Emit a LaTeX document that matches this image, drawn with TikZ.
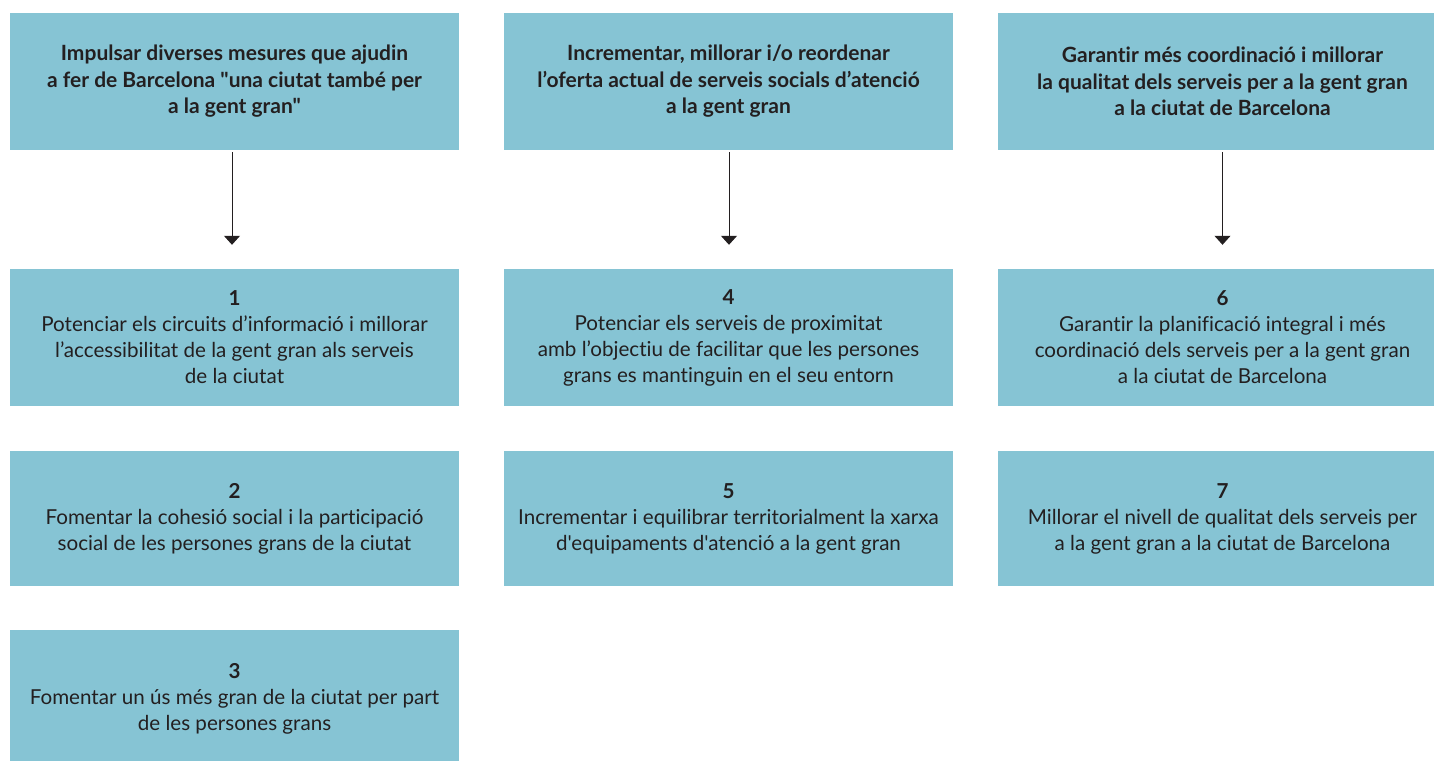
\documentclass[tikz,border=0pt]{standalone}
\usepackage{fontspec}
\setmainfont{Lato}[Ligatures={TeXOff,NoCommon}]
\usepackage{tikz}
\usetikzlibrary{arrows,arrows.meta,positioning}
\definecolor{caixa}{RGB}{134,196,212}
\definecolor{tinta}{RGB}{35,31,32}
\tikzstyle{bx} = [rectangle, fill=caixa, draw=none, align=center, inner sep=0pt, minimum width=449pt, text=tinta, font=\fontsize{20.6}{26}\selectfont]
\tikzstyle{hd} = [bx, minimum height=137pt, font=\fontsize{21}{26.5}\selectfont\bfseries]
\tikzstyle{ob} = [bx, minimum height=137pt]
\tikzstyle{ar} = [tinta, line width=1pt, -{Triangle[width=16pt,length=9pt]}]

\begin{document}
\begin{tikzpicture}[x=1pt,y=1pt]
		\useasboundingbox (0,0) rectangle (1434,760);
		\clip (0,0) rectangle (1434,760);

		% objectius generals
		\node[hd] (h1) at (234.5,678.5) {Impulsar diverses mesures que ajudin\\a fer de Barcelona "una ciutat també per\\a la gent gran"};
		\node[hd] (h2) at (728.5,678.5) {Incrementar, millorar i/o reordenar\\l’oferta actual de serveis socials d’atenció\\a la gent gran};
		\node[hd] (h3) at (1222.5,678.5) {Garantir més coordinació i millorar\\la qualitat dels serveis per a la gent gran\\a la ciutat de Barcelona};

		% objectius especifics
		\node[ob] (o1) at (234.5,422.5) {\textbf{1}\\Potenciar els circuits d’informació i millorar\\l’accessibilitat de la gent gran als serveis\\de la ciutat};
		\node[ob] (o4) at (728.5,422.5) {\textbf{4}\\Potenciar els serveis de proximitat\\amb l’objectiu de facilitar que les persones\\grans es mantinguin en el seu entorn};
		\node[ob] (o6) at (1222.5,422.5) {\textbf{6}\\Garantir la planificació integral i més\\coordinació dels serveis per a la gent gran\\a la ciutat de Barcelona};

		\node[ob, minimum height=135pt] (o2) at (234.5,241.5) {\textbf{2}\\Fomentar la cohesió social i la participació\\social de les persones grans de la ciutat};
		\node[ob, minimum height=135pt] (o5) at (728.5,241.5) {\textbf{5}\\Incrementar i equilibrar territorialment la xarxa\\d'equipaments d'atenció a la gent gran};
		\node[ob, minimum height=135pt] (o7) at (1222.5,241.5) {\textbf{7}\\Millorar el nivell de qualitat dels serveis per\\a la gent gran a la ciutat de Barcelona};

		\node[ob] (o3) at (234.5,61.5) {\textbf{3}\\Fomentar un ús més gran de la ciutat per part\\de les persones grans};

		\draw[ar] ([xshift=-2.5pt,yshift=-2pt]h1.south) -- ([xshift=-2.5pt,yshift=24pt]o1.north);
		\draw[ar] ([xshift=0.5pt,yshift=-2pt]h2.south) -- ([xshift=0.5pt,yshift=24pt]o4.north);
		\draw[ar] ([yshift=-2pt]h3.south) -- ([yshift=24pt]o6.north);
	\end{tikzpicture}
\end{document}
